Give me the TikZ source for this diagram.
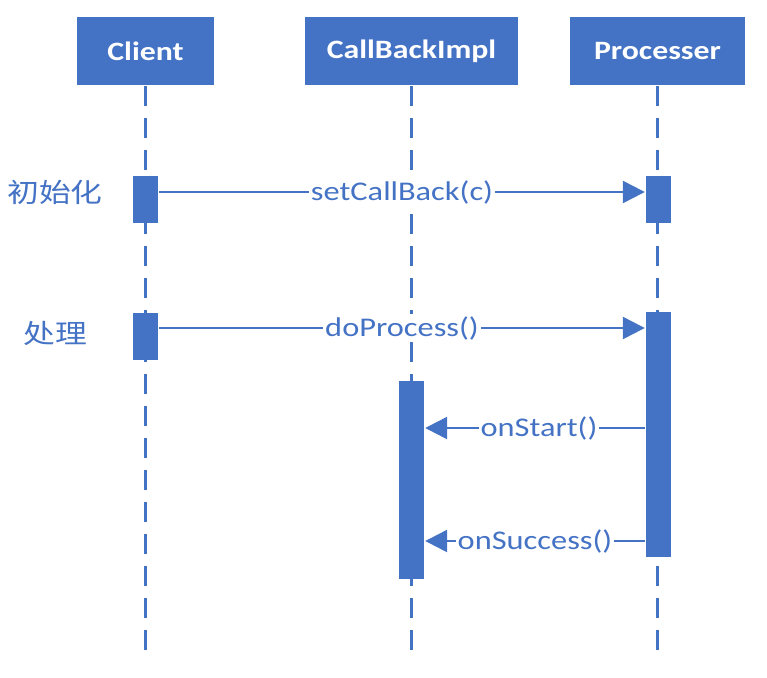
\documentclass[tikz,border=0pt]{standalone}
\usepackage{fontspec}
\setmainfont{Carlito}[FakeStretch=1.2]
\newfontfamily\cjk{Noto Sans CJK SC}[FakeStretch=1.2]
\usepackage{tikz}
\usetikzlibrary{arrows.meta}
\definecolor{blu}{HTML}{4472C4}

\begin{document}
\begin{tikzpicture}[x=1pt,y=-1pt,line width=2.4pt,draw=blu,
  obj/.style={rectangle,fill=blu,text=white,minimum height=68pt,inner sep=0pt,
    font=\fontsize{26.5}{30}\selectfont\bfseries},
  bar/.style={rectangle,fill=blu,minimum width=25pt,inner sep=0pt},
  life/.style={draw=blu,dash pattern=on 20pt off 12pt},
  msg/.style={draw=blu,-{Triangle[length=22pt,width=22pt]}},
  lbl/.style={fill=white,text=blu,inner sep=2pt,font=\fontsize{27}{30}\selectfont},
  phase/.style={text=blu,font=\cjk\fontsize{26.5}{30}\selectfont}]
\useasboundingbox (0,0) rectangle (767,677);
\node[obj,minimum width=137pt] (client) at (145.5,51) {Client};
\node[obj,minimum width=213pt] (impl)   at (411.5,51) {CallBackImpl};
\node[obj,minimum width=175pt] (proc)   at (657.5,51) {Processer};
\coordinate (client_end) at (145.5,650);
\coordinate (impl_end)   at (411.5,650);
\coordinate (proc_end)   at (657.5,650);
\path (client) edge[life] (client_end)
      (impl)   edge[life] (impl_end)
      (proc)   edge[life] (proc_end);
\node[bar,minimum height=47pt]  (act_c1) at (145.5,199.5) {};
\node[bar,minimum height=47pt]  (act_p1) at (658.5,199.5) {};
\node[bar,minimum height=47pt]  (act_c2) at (145.5,336.5) {};
\node[bar,minimum height=245pt] (act_p2) at (658.5,434.5) {};
\node[bar,minimum height=198pt] (act_i)  at (411.5,480)   {};
\node[phase] (init) at (55,192) {初始化};
\node[phase] (work) at (55,333) {处理};
\coordinate (r1) at (0,192);
\coordinate (r2) at (0,328);
\coordinate (r3) at (0,428);
\coordinate (r4) at (0,541);
\path
  (act_c1.east |- r1) edge[msg] node[lbl] {setCallBack(c)} (act_p1.west |- r1)
  (act_c2.east |- r2) edge[msg] node[lbl] {doProcess()}    (act_p2.west |- r2)
  (act_p2.west |- r3) edge[msg] node[lbl,xshift=4pt] {onStart()} (act_i.east |- r3)
  (act_p2.west |- r4) edge[msg] node[lbl] {onSuccess()}    (act_i.east |- r4);
\end{tikzpicture}
\end{document}
